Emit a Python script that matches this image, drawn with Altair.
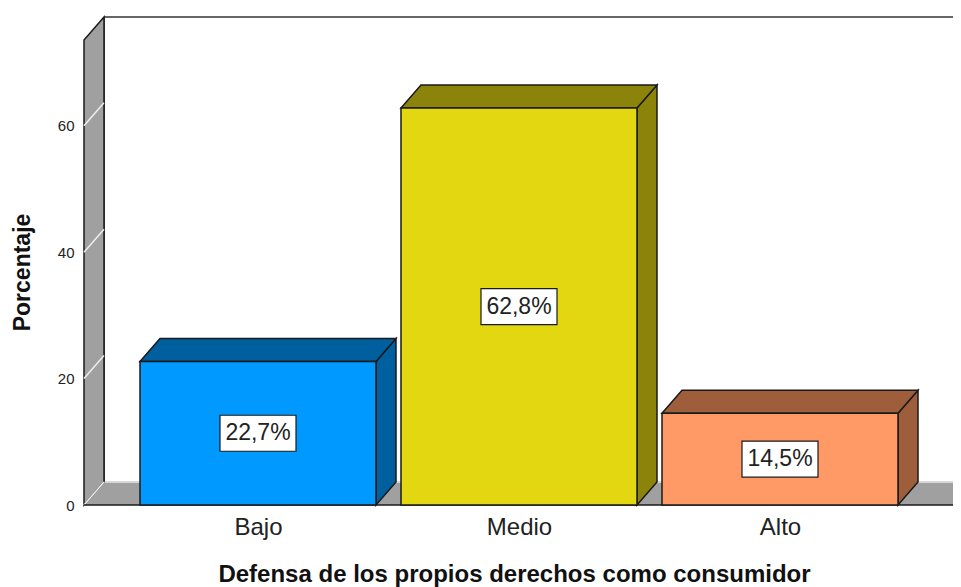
import json
import altair as alt
import pandas as pd

# ---- data ----
categorias = ["Bajo", "Medio", "Alto"]
porcentajes = [22.7, 62.8, 14.5]
etiquetas = ["22,7%", "62,8%", "14,5%"]
marcas_y = [0, 20, 40, 60]
colores_frente = ["#0099FF", "#E2D710", "#FF9966"]
colores_lado = ["#005F9E", "#8C840A", "#9E5E3C"]

# ---- geometry (category units on x, percent units on y) ----
W, H = 869, 488
PX_PER_CAT = 261.0
PX_PER_PCT = 6.32
X_MIN = -174 / PX_PER_CAT
X_MAX = X_MIN + W / PX_PER_CAT
Y_MAX = H / PX_PER_PCT
HALF = 118 / PX_PER_CAT
DX = 20 / PX_PER_CAT
DY = 23 / PX_PER_PCT
BOX_HW = 38 / PX_PER_CAT
BOX_HH = 18 / PX_PER_PCT

pos = list(range(len(categorias)))
FONT = "Liberation Sans"
EDGE = "#1a1a1a"

xs = alt.Scale(domain=[X_MIN, X_MAX], nice=False, zero=False)
ys = alt.Scale(domain=[0, Y_MAX], nice=False, zero=False)

xaxis = alt.Axis(
    values=pos,
    labelExpr=f"{json.dumps(categorias)}[datum.value]",
    title="Defensa de los propios derechos como consumidor",
    domain=False, ticks=False, grid=False,
    labelFont=FONT, labelFontSize=24, labelColor="#222222",
    labelPadding=22, labelBaseline="middle",
    titleFont=FONT, titleFontSize=24, titleFontWeight="bold", titleColor="#111111",
    titleX=430, titleY=76, titleAlign="center", titleBaseline="alphabetic",
)
yaxis = alt.Axis(
    values=marcas_y,
    title="Porcentaje",
    domain=False, ticks=False, grid=False,
    labelFont=FONT, labelFontSize=15, labelColor="#222222", labelPadding=10,
    titleFont=FONT, titleFontSize=23, titleFontWeight="bold", titleColor="#111111",
    titleX=-62, titleY=255, titleAngle=270, titleAlign="center", titleBaseline="middle",
)


def X(f):
    return alt.X(f, type="quantitative", scale=xs, axis=xaxis)


def Y(f):
    return alt.Y(f, type="quantitative", scale=ys, axis=yaxis)


# ---- frame: back wall edges ----
back_top = pd.DataFrame({"x": [X_MIN + DX], "x2": [X_MAX + DX], "y": [Y_MAX]})
back_left = pd.DataFrame({"x": [X_MIN + DX], "y": [DY], "y2": [Y_MAX]})
l_back_top = alt.Chart(back_top).mark_rule(color="#333333", strokeWidth=1.5).encode(
    x=X("x"), x2="x2", y=Y("y"))
l_back_left = alt.Chart(back_left).mark_rule(color=EDGE, strokeWidth=1.5).encode(
    x=X("x"), y=Y("y"), y2="y2")

# floor (horizontal area => parallelogram)
floor = pd.DataFrame({"y": [0, DY], "x": [X_MIN, X_MIN + DX], "x2": [X_MAX, X_MAX + DX]})
l_floor = alt.Chart(floor).mark_area(orient="horizontal", fill="#A0A0A0").encode(
    y=Y("y"), x=X("x"), x2="x2")
floor_back = pd.DataFrame({"x": [X_MIN + DX], "x2": [X_MAX + DX], "y": [DY]})
l_floor_back = alt.Chart(floor_back).mark_rule(color="#D8D8D8", strokeWidth=2).encode(
    x=X("x"), x2="x2", y=Y("y"))
floor_front = pd.DataFrame({"x": [X_MIN], "x2": [X_MAX], "y": [0]})
l_floor_front = alt.Chart(floor_front).mark_rule(color=EDGE, strokeWidth=1.5).encode(
    x=X("x"), x2="x2", y=Y("y"))

# left wall
wall = pd.DataFrame({"x": [X_MIN, X_MIN + DX], "y": [0, DY], "y2": [Y_MAX - DY, Y_MAX]})
l_wall = alt.Chart(wall).mark_area(fill="#A0A0A0", stroke=EDGE, strokeWidth=1.5).encode(
    x=X("x"), y=Y("y"), y2="y2")
wall_ticks = pd.DataFrame({
    "x": [X_MIN] * len(marcas_y),
    "x2": [X_MIN + DX] * len(marcas_y),
    "y": marcas_y,
    "y2": [v + DY for v in marcas_y],
})
l_wall_ticks = alt.Chart(wall_ticks).mark_rule(color="#EEEEEE", strokeWidth=1.5).encode(
    x=X("x"), x2="x2", y=Y("y"), y2="y2")

# ---- bars ----
side_rows, top_rows = [], []
for c, v, cat, col in zip(pos, porcentajes, categorias, colores_lado):
    side_rows.append({"cat": cat, "x": c + HALF, "y": 0, "y2": v, "col": col})
    side_rows.append({"cat": cat, "x": c + HALF + DX, "y": DY, "y2": v + DY, "col": col})
    top_rows.append({"cat": cat, "y": v, "x": c - HALF, "x2": c + HALF, "col": col})
    top_rows.append({"cat": cat, "y": v + DY, "x": c - HALF + DX, "x2": c + HALF + DX, "col": col})
side = pd.DataFrame(side_rows)
top = pd.DataFrame(top_rows)
front = pd.DataFrame({
    "cat": categorias,
    "x": [c - HALF for c in pos],
    "x2": [c + HALF for c in pos],
    "y": [0] * len(pos),
    "y2": porcentajes,
    "col": colores_frente,
    "xc": pos,
    "ym": [v / 2 for v in porcentajes],
    "bx": [c - BOX_HW for c in pos],
    "bx2": [c + BOX_HW for c in pos],
    "by": [v / 2 - BOX_HH for v in porcentajes],
    "by2": [v / 2 + BOX_HH for v in porcentajes],
    "etq": etiquetas,
})

l_side = alt.Chart(side).mark_area(stroke=EDGE, strokeWidth=1.5).encode(
    x=X("x"), y=Y("y"), y2="y2", detail="cat:N", fill=alt.Fill("col:N", scale=None))
l_top = alt.Chart(top).mark_area(orient="horizontal", stroke=EDGE, strokeWidth=1.5).encode(
    y=Y("y"), x=X("x"), x2="x2", detail="cat:N", fill=alt.Fill("col:N", scale=None))
l_front = alt.Chart(front).mark_rect(stroke=EDGE, strokeWidth=1.5).encode(
    x=X("x"), x2="x2", y=Y("y"), y2="y2", fill=alt.Fill("col:N", scale=None))
l_box = alt.Chart(front).mark_rect(fill="white", stroke=EDGE, strokeWidth=1.2).encode(
    x=X("bx"), x2="bx2", y=Y("by"), y2="by2")
l_text = alt.Chart(front).mark_text(font=FONT, fontSize=23, color="#222222",
                                    align="center", baseline="middle").encode(
    x=X("xc"), y=Y("ym"), text="etq:N")

chart = alt.layer(
    l_back_top, l_back_left, l_floor, l_floor_back, l_wall, l_wall_ticks, l_floor_front,
    l_side, l_top, l_front, l_box, l_text,
).properties(
    width=W, height=H,
    padding={"left": 76, "top": 9, "right": 0, "bottom": 82},
    autosize=alt.AutoSizeParams(type="none"),
).configure_view(stroke=None)

chart.save("out.html", embed_options={"renderer": "svg", "actions": False})
